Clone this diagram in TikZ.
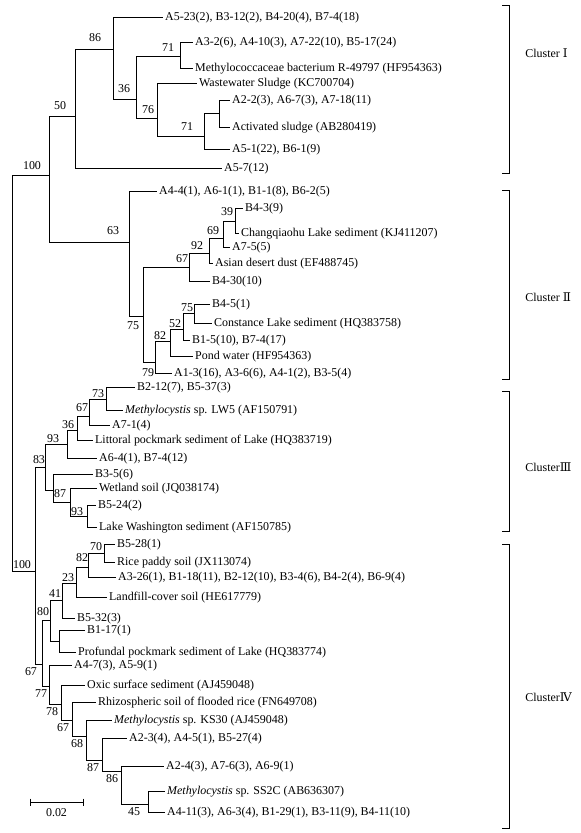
\documentclass[tikz,border=0pt]{standalone}
\usepackage{fontspec}
\setmainfont{Liberation Serif}
\newfontfamily\romfont{DejaVu Serif}
\usepackage{tikz}
\usetikzlibrary{positioning}

\begin{document}
\begin{tikzpicture}[x=0.03cm,y=-0.03cm,line width=0.7pt,
  font=\fontsize{10.2}{12}\selectfont,
  leaf/.style={anchor=west,inner sep=1.5pt,text height=6.8pt,text depth=0pt},
  bs/.style={inner sep=0pt,text height=6.8pt,text depth=0pt},
  clu/.style={anchor=west,inner sep=0pt},
  br/.style={line width=0.8pt}]
\useasboundingbox (0,0) rectangle (580,833);
% inner nodes
\coordinate (rt) at (12,373);
\coordinate (ntop) at (49,175);
\coordinate (n50) at (75,116);
\coordinate (n86) at (113,49);
\coordinate (n36) at (136,99);
\coordinate (n71a) at (180,56);
\coordinate (n76) at (157,118);
\coordinate (n71b) at (204,136);
\coordinate (nas) at (219,113);
\coordinate (n63) at (129,242);
\coordinate (n75) at (143,316);
\coordinate (n67) at (189,267);
\coordinate (n92) at (209,253);
\coordinate (n69) at (223,238);
\coordinate (n39) at (235,221);
\coordinate (n79) at (155,362);
\coordinate (n82) at (170,341);
\coordinate (n52) at (183,329);
\coordinate (n75b) at (194,313);
\coordinate (nbot) at (35,571);
\coordinate (n83) at (45,467);
\coordinate (n93a) at (67,444);
\coordinate (n36c) at (77,430);
\coordinate (n67c) at (89,416);
\coordinate (n73) at (106,399);
\coordinate (nwb) at (53,490);
\coordinate (n87b) at (70,502);
\coordinate (n93b) at (87,516);
\coordinate (n67d) at (42,664);
\coordinate (n80) at (50,620);
\coordinate (n41) at (62,600);
\coordinate (n23) at (76,583);
\coordinate (n82b) at (88,567);
\coordinate (n70) at (104,553);
\coordinate (nbp) at (59,641);
\coordinate (n77) at (49,686);
\coordinate (n78) at (61,704);
\coordinate (n67e) at (72,720);
\coordinate (n68) at (86,736);
\coordinate (n87c) at (102,760);
\coordinate (n86b) at (121,771);
\coordinate (n45) at (148,804);
% leaves
\node[leaf] (l1) at (163,17) {A5-23(2), B3-12(2), B4-20(4), B7-4(18)};
\node[leaf] (l2) at (193,42) {A3-2(6), A4-10(3), A7-22(10), B5-17(24)};
\node[leaf] (l3) at (193,68) {Methylococcaceae bacterium R-49797 (HF954363)};
\node[leaf] (l4) at (197,83) {Wastewater Sludge (KC700704)};
\node[leaf] (l5) at (230,100) {A2-2(3), A6-7(3), A7-18(11)};
\node[leaf] (l6) at (230,127) {Activated sludge (AB280419)};
\node[leaf] (l7) at (230,149) {A5-1(22), B6-1(9)};
\node[leaf] (l8) at (222,168) {A5-7(12)};
\node[leaf] (l9) at (157,191) {A4-4(1), A6-1(1), B1-1(8), B6-2(5)};
\node[leaf] (l10) at (243,208) {B4-3(9)};
\node[leaf] (l11) at (239,233) {Changqiaohu Lake sediment (KJ411207)};
\node[leaf] (l12) at (230,247) {A7-5(5)};
\node[leaf] (l13) at (213,263) {Asian desert dust (EF488745)};
\node[leaf] (l14) at (210,281) {B4-30(10)};
\node[leaf] (l15) at (210,304) {B4-5(1)};
\node[leaf] (l16) at (212,323) {Constance Lake sediment (HQ383758)};
\node[leaf] (l17) at (190,340) {B1-5(10), B7-4(17)};
\node[leaf] (l18) at (193,356) {Pond water (HF954363)};
\node[leaf] (l19) at (172,373) {A1-3(16), A3-6(6), A4-1(2), B3-5(4)};
\node[leaf] (l20) at (135,387) {B2-12(7), B5-37(3)};
\node[leaf] (l21) at (123,410) {\textit{Methylocystis} sp. LW5 (AF150791)};
\node[leaf] (l22) at (110,425) {A7-1(4)};
\node[leaf] (l23) at (93,440) {Littoral pockmark sediment of Lake (HQ383719)};
\node[leaf] (l24) at (97,458) {A6-4(1), B7-4(12)};
\node[leaf] (l25) at (93,474) {B3-5(6)};
\node[leaf] (l26) at (97,488) {Wetland soil (JQ038174)};
\node[leaf] (l27) at (96,505) {B5-24(2)};
\node[leaf] (l28) at (97,527) {Lake Washington sediment (AF150785)};
\node[leaf] (l29) at (115,544) {B5-28(1)};
\node[leaf] (l30) at (115,562) {Rice paddy soil (JX113074)};
\node[leaf] (l31) at (116,577) {A3-26(1), B1-18(11), B2-12(10), B3-4(6), B4-2(4), B6-9(4)};
\node[leaf] (l32) at (107,597) {Landfill-cover soil (HE617779)};
\node[leaf] (l33) at (75,618) {B5-32(3)};
\node[leaf] (l34) at (85,630) {B1-17(1)};
\node[leaf] (l35) at (76,652) {Profundal pockmark sediment of Lake (HQ383774)};
\node[leaf] (l36) at (72,665) {A4-7(3), A5-9(1)};
\node[leaf] (l37) at (85,685) {Oxic surface sediment (AJ459048)};
\node[leaf] (l38) at (96,702) {Rhizospheric soil of flooded rice (FN649708)};
\node[leaf] (l39) at (112,720) {\textit{Methylocystis} sp. KS30 (AJ459048)};
\node[leaf] (l40) at (127,738) {A2-3(4), A4-5(1), B5-27(4)};
\node[leaf] (l41) at (164,766) {A2-4(3), A7-6(3), A6-9(1)};
\node[leaf] (l42) at (165,791) {\textit{Methylocystis} sp. SS2C (AB636307)};
\node[leaf] (l43) at (165,812) {A4-11(3), A6-3(4), B1-29(1), B3-11(9), B4-11(10)};
% bootstrap values
\node[bs] (b100a) at (32,166) {100};
\node[bs] (b50) at (60,106) {50};
\node[bs] (b86) at (95,38) {86};
\node[bs] (b36) at (124,89) {36};
\node[bs] (b71a) at (168,48) {71};
\node[bs] (b76) at (148,110) {76};
\node[bs] (b71b) at (187,127) {71};
\node[bs] (b63) at (113,231) {63};
\node[bs] (b75) at (133,326) {75};
\node[bs] (b67) at (182,259) {67};
\node[bs] (b92) at (197,246) {92};
\node[bs] (b69) at (213,231) {69};
\node[bs] (b39) at (227,212) {39};
\node[bs] (b75b) at (187,308) {75};
\node[bs] (b52) at (175,324) {52};
\node[bs] (b82) at (160,336) {82};
\node[bs] (b79) at (148,373) {79};
\node[bs] (b73) at (98,394) {73};
\node[bs] (b67c) at (82,408) {67};
\node[bs] (b36c) at (68,425) {36};
\node[bs] (b93a) at (53,439) {93};
\node[bs] (b83) at (39,460) {83};
\node[bs] (b87b) at (60,494) {87};
\node[bs] (b93b) at (77,512) {93};
\node[bs] (b100b) at (22,565) {100};
\node[bs] (b70) at (96,547) {70};
\node[bs] (b82b) at (82,558) {82};
\node[bs] (b23) at (68,578) {23};
\node[bs] (b41) at (55,594) {41};
\node[bs] (b80) at (43,612) {80};
\node[bs] (b67d) at (31,672) {67};
\node[bs] (b77) at (41,694) {77};
\node[bs] (b78) at (52,712) {78};
\node[bs] (b67e) at (63,728) {67};
\node[bs] (b68) at (77,744) {68};
\node[bs] (b87c) at (93,768) {87};
\node[bs] (b86b) at (112,779) {86};
\node[bs] (b45) at (134,812) {45};
% branches
\draw (rt) |- (ntop);
\draw (rt) |- (nbot);
\draw (ntop) |- (n50);
\draw (ntop) |- (n63);
\draw (n50) |- (n86);
\draw (n50) |- (l8);
\draw (n86) |- (l1);
\draw (n86) |- (n36);
\draw (n36) |- (n71a);
\draw (n36) |- (n76);
\draw (n71a) |- (l2);
\draw (n71a) |- (l3);
\draw (n76) |- (l4);
\draw (n76) |- (n71b);
\draw (n71b) |- (nas);
\draw (n71b) |- (l7);
\draw (nas) |- (l5);
\draw (nas) |- (l6);
\draw (n63) |- (l9);
\draw (n63) |- (n75);
\draw (n75) |- (n67);
\draw (n75) |- (n79);
\draw (n67) |- (n92);
\draw (n67) |- (l14);
\draw (n92) |- (n69);
\draw (n92) |- (l13);
\draw (n69) |- (n39);
\draw (n69) |- (l12);
\draw (n39) |- (l10);
\draw (n39) |- (l11);
\draw (n79) |- (n82);
\draw (n79) |- (l19);
\draw (n82) |- (n52);
\draw (n82) |- (l18);
\draw (n52) |- (n75b);
\draw (n52) |- (l17);
\draw (n75b) |- (l15);
\draw (n75b) |- (l16);
\draw (nbot) |- (n83);
\draw (nbot) |- (n67d);
\draw (n83) |- (n93a);
\draw (n83) |- (nwb);
\draw (n93a) |- (n36c);
\draw (n93a) |- (l24);
\draw (n36c) |- (n67c);
\draw (n36c) |- (l23);
\draw (n67c) |- (n73);
\draw (n67c) |- (l22);
\draw (n73) |- (l20);
\draw (n73) |- (l21);
\draw (nwb) |- (l25);
\draw (nwb) |- (n87b);
\draw (n87b) |- (l26);
\draw (n87b) |- (n93b);
\draw (n93b) |- (l27);
\draw (n93b) |- (l28);
\draw (n67d) |- (n80);
\draw (n67d) |- (n77);
\draw (n80) |- (n41);
\draw (n80) |- (nbp);
\draw (n41) |- (n23);
\draw (n41) |- (l33);
\draw (n23) |- (n82b);
\draw (n23) |- (l32);
\draw (n82b) |- (n70);
\draw (n82b) |- (l31);
\draw (n70) |- (l29);
\draw (n70) |- (l30);
\draw (nbp) |- (l34);
\draw (nbp) |- (l35);
\draw (n77) |- (l36);
\draw (n77) |- (n78);
\draw (n78) |- (l37);
\draw (n78) |- (n67e);
\draw (n67e) |- (l38);
\draw (n67e) |- (n68);
\draw (n68) |- (l39);
\draw (n68) |- (n87c);
\draw (n87c) |- (l40);
\draw (n87c) |- (n86b);
\draw (n86b) |- (l41);
\draw (n86b) |- (n45);
\draw (n45) |- (l42);
\draw (n45) |- (l43);
% clusters
\draw[br] (502,5) -| (509,173) -- (502,173);
\draw[br] (502,190) -| (509,379) -- (502,379);
\draw[br] (502,391) -| (509,531) -- (502,531);
\draw[br] (502,544) -| (509,828) -- (502,828);
\node[clu] (c1) at (525,53) {Cluster {\romfont Ⅰ}};
\node[clu] (c2) at (525,297) {Cluster {\romfont Ⅱ}};
\node[clu] (c3) at (525,467) {Cluster{\romfont Ⅲ}};
\node[clu] (c4) at (525,697) {Cluster{\romfont Ⅳ}};
% scale
\coordinate (sba) at (30,802);
\coordinate (sbb) at (83,802);
\coordinate (sbm) at (56.5,802);
\draw (sba) -- (sbb);
\draw (sba) ++(0,-3.5) -- ++(0,7);
\draw (sbb) ++(0,-3.5) -- ++(0,7);
\node[bs,below=5pt of sbm] (sbl) {0.02};
\end{tikzpicture}
\end{document}
